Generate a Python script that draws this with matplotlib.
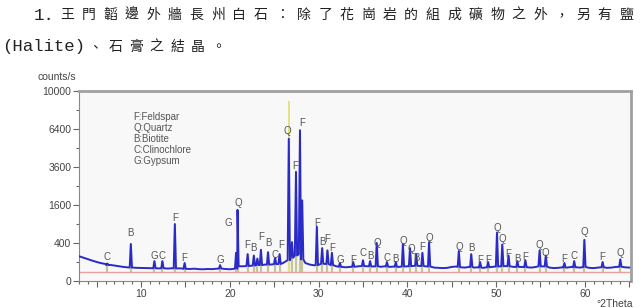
import numpy as np
import matplotlib
matplotlib.use('Agg')
import matplotlib.pyplot as plt
from matplotlib.ticker import FixedLocator, MultipleLocator

# background of the scan, read every 0.5 deg
bg_theta = np.arange(3.0, 65.01, 0.5)
bg_counts = [170, 150, 130, 115, 100, 88, 80, 72, 66, 60, 55, 52, 50, 48, 47, 46, 45, 47, 44, 46,
             43, 45, 42, 44, 41, 40, 42, 39, 38, 40, 39, 42, 44, 40, 38, 45, 50, 60, 62, 68,
             72, 70, 75, 72, 78, 80, 90, 110, 140, 150, 120, 90, 75, 68, 80, 85, 80, 70, 60, 55,
             52, 55, 58, 60, 62, 60, 58, 62, 56, 60, 55, 58, 55, 58, 60, 62, 65, 62, 60, 58,
             50, 48, 46, 48, 55, 58, 52, 50, 55, 50, 52, 48, 52, 55, 58, 60, 62, 58, 55, 56,
             54, 52, 50, 55, 62, 58, 50, 46, 48, 52, 50, 55, 52, 50, 55, 48, 46, 50, 52, 48,
             50, 55, 58, 52, 50]

# peaks: position (deg 2theta), top (counts/s), foot (counts/s)
peak_pos = [6.2, 8.84, 11.5, 12.4, 13.8, 14.9, 18.9, 20.7, 20.86, 22.0, 22.7, 23.1, 23.5, 24.3,
            25.1, 25.6, 26.64, 27.0, 27.45, 27.9, 28.15, 29.8, 30.4, 31.0, 31.5, 32.4, 33.9, 35.0,
            35.8, 36.55, 37.7, 38.7, 39.5, 40.3, 41.0, 41.7, 42.45, 45.8, 47.2, 48.2, 49.1, 50.1,
            50.7, 51.4, 52.4, 53.3, 54.9, 55.6, 57.7, 58.8, 59.95, 62.0, 64.0]
peak_top = [85, 380, 110, 110, 900, 90, 70, 220, 1400, 200, 180, 140, 270, 230,
            150, 200, 5600, 420, 3300, 6300, 1800, 820, 300, 260, 220, 90, 100, 120,
            110, 400, 100, 100, 380, 300, 200, 220, 420, 250, 200, 100, 100, 650,
            370, 180, 110, 120, 260, 180, 90, 110, 470, 100, 130]
peak_foot = [70, 50, 45, 45, 44, 41, 43, 42, 60, 62, 66, 70, 70, 74,
             78, 80, 120, 150, 180, 200, 130, 70, 82, 80, 70, 56, 56, 62,
             60, 60, 58, 56, 58, 60, 64, 62, 58, 55, 54, 50, 52, 58,
             60, 60, 55, 54, 60, 58, 50, 52, 54, 52, 56]

# reference line of quartz main peak (yellow)
quartz_ref_pos = 26.64
quartz_ref_top = 9000

# peak letters
lab_x = [6.2, 8.84, 11.5, 12.4, 13.8, 14.9, 18.9, 19.8, 20.9, 22.0, 22.7, 23.5, 24.3, 25.1,
         25.8, 26.5, 27.4, 28.1, 29.8, 30.4, 31.0, 31.5, 32.4, 33.9, 35.0, 35.8, 36.6, 37.7,
         38.7, 39.5, 40.4, 41.0, 41.7, 42.5, 45.8, 47.2, 48.2, 49.1, 50.1, 50.7, 51.4, 52.4,
         53.3, 54.9, 55.6, 57.7, 58.8, 59.9, 62.0, 64.0]
lab_y = [160, 640, 175, 175, 1100, 146, 122, 930, 1685, 359, 302, 543, 400, 187,
         359, 6258, 3663, 6889, 922, 428, 481, 296, 122, 122, 212, 173, 406, 143,
         134, 443, 278, 146, 326, 505, 326, 307, 122, 122, 787, 481, 202, 130,
         164, 359, 222, 134, 173, 673, 164, 212]
lab_txt = ['C', 'B', 'G', 'C', 'F', 'F', 'G', 'G', 'Q', 'F', 'B', 'F', 'B', 'C',
           'F', 'Q', 'F', 'F', 'F', 'B', 'F', 'F', 'G', 'F', 'C', 'B', 'Q', 'C',
           'B', 'Q', 'Q', 'B', 'F', 'Q', 'Q', 'B', 'F', 'F', 'Q', 'Q', 'F', 'B',
           'F', 'Q', 'Q', 'F', 'C', 'Q', 'F', 'Q']

legend_lines = ['F:Feldspar', 'Q:Quartz', 'B:Biotite', 'C:Clinochlore', 'G:Gypsum']

line1 = '王門韜邊外牆長州白石：除了花崗岩的組成礦物之外，另有鹽'
line2 = '、石膏之結晶。'

W, H = 642, 308
fig = plt.figure(figsize=(W / 100, H / 100), dpi=100)
ax = fig.add_axes([79 / W, 1 - 281 / H, (631 - 79) / W, (281 - 91) / H])

# build the trace
pts = [(t, c) for t, c in zip(bg_theta, bg_counts)
       if min(abs(t - p) for p in peak_pos) > 0.2]
for p, top, ft in zip(peak_pos, peak_top, peak_foot):
    pts += [(p - 0.13, ft), (p, top), (p + 0.13, ft)]
pts.sort()
tx = [a for a, b in pts]
ty = [b for a, b in pts]

ax.set_yscale('function', functions=(lambda v: np.sqrt(np.clip(v, 0, None)), lambda v: v ** 2))
ax.set_facecolor('#f8f8f8')

ax.axhline(22, color='#e8a0a0', lw=1.0, zorder=1)
ax.vlines(peak_pos, 22, peak_top, color='#c4c49a', lw=1.6, zorder=2)
ax.vlines([quartz_ref_pos], 22, [quartz_ref_top], color='#e2e27e', lw=1.4, zorder=2)
ax.plot(tx, ty, color='#2a2ac8', lw=1.4, zorder=3)

for x, y, s in zip(lab_x, lab_y, lab_txt):
    ax.text(x, y, s, ha='center', va='center', fontsize=7, color='#555555',
            family='Liberation Sans', zorder=4)

for i, s in enumerate(legend_lines):
    fig.text(133 / W, 1 - (117 + i * 11) / H, s, fontsize=7, color='#555555',
             family='Liberation Sans', va='center')

ax.set_xlim(3, 65.2)
ax.set_ylim(0, 10000)
ax.yaxis.set_major_locator(FixedLocator([0, 400, 1600, 3600, 6400, 10000]))
ax.yaxis.set_minor_locator(FixedLocator([100, 900, 2500, 4900, 8100]))
ax.yaxis.set_major_formatter(plt.FuncFormatter(lambda v, _: '%d' % v))
ax.yaxis.set_minor_formatter(plt.NullFormatter())
ax.xaxis.set_major_locator(MultipleLocator(5))
ax.xaxis.set_minor_locator(MultipleLocator(1))
ax.xaxis.set_major_formatter(plt.FuncFormatter(lambda v, _: '%d' % v if v % 10 == 0 else ''))

ax.tick_params(which='both', direction='out', colors='#666666', labelcolor='#444444',
               labelsize=7.5, width=0.8)
ax.tick_params(which='major', length=4, pad=1.5)
ax.tick_params(which='minor', length=2)
for lbl in ax.get_xticklabels() + ax.get_yticklabels():
    lbl.set_family('Liberation Sans')

for side in ['left', 'bottom']:
    ax.spines[side].set_color('#888888')
    ax.spines[side].set_linewidth(0.8)
for side in ['top', 'right']:
    ax.spines[side].set_color('#a0a0a0')
    ax.spines[side].set_linewidth(2.0)

fig.text(37 / W, 1 - 77 / H, 'counts/s', fontsize=7.5, color='#444444',
         family='Liberation Sans', va='center')
fig.text(596 / W, 1 - 304 / H, '°2Theta', fontsize=7.5, color='#444444',
         family='Liberation Sans', va='center')

# caption text above the chart
fig.text(44 / W, 1 - 16 / H, '1.', fontsize=12.5, family='Liberation Mono',
         ha='center', va='center', color='#222222')
for i, ch in enumerate(line1):
    fig.text((67.5 + i * 21.48) / W, 1 - 15 / H, ch, fontsize=10, family='Noto Sans CJK TC',
             ha='center', va='center', color='#222222')
fig.text(2 / W, 1 - 47 / H, '(Halite)', fontsize=12.5, family='Liberation Mono',
         ha='left', va='center', color='#222222')
for i, ch in enumerate(line2):
    fig.text((95 + i * 20.5) / W, 1 - 47 / H, ch, fontsize=10, family='Noto Sans CJK TC',
             ha='center', va='center', color='#222222')

fig.savefig('out.png', dpi=100)
